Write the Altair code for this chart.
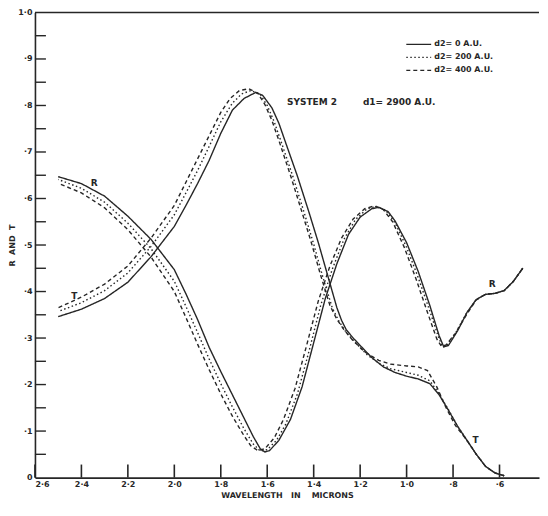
import altair as alt
import pandas as pd

# ---- data (wavelength in microns, value 0..1) ----
lam_R0 = [2.50, 2.40, 2.30, 2.20, 2.10, 2.00, 1.95, 1.90, 1.85, 1.80, 1.75, 1.70, 1.66, 1.63, 1.61, 1.59,
          1.55, 1.50, 1.45, 1.40, 1.35, 1.30, 1.25, 1.20, 1.15, 1.12, 1.08, 1.05, 1.00, 0.95, 0.90, 0.86,
          0.84, 0.82, 0.78, 0.74, 0.70, 0.66, 0.62, 0.58, 0.54, 0.50]
R0 = [0.647, 0.632, 0.605, 0.562, 0.512, 0.447, 0.395, 0.340, 0.280, 0.228, 0.178, 0.128, 0.088, 0.062,
      0.055, 0.058, 0.080, 0.125, 0.195, 0.290, 0.385, 0.460, 0.523, 0.560, 0.578, 0.581, 0.572, 0.552,
      0.505, 0.443, 0.370, 0.305, 0.281, 0.284, 0.316, 0.355, 0.383, 0.394, 0.396, 0.402, 0.422, 0.450]

lam_R200 = [2.50, 2.40, 2.30, 2.20, 2.10, 2.00, 1.95, 1.90, 1.85, 1.80, 1.75, 1.70, 1.66, 1.63, 1.60, 1.56,
            1.52, 1.47, 1.42, 1.37, 1.32, 1.27, 1.22, 1.17, 1.13, 1.09, 1.05, 1.00, 0.95, 0.90, 0.86, 0.845,
            0.83, 0.79, 0.74, 0.70, 0.66, 0.62, 0.58, 0.54, 0.50]
R200 = [0.641, 0.622, 0.592, 0.547, 0.492, 0.422, 0.368, 0.312, 0.255, 0.202, 0.152, 0.105, 0.072, 0.057,
        0.060, 0.080, 0.115, 0.180, 0.272, 0.370, 0.448, 0.512, 0.555, 0.578, 0.583, 0.575, 0.548, 0.495,
        0.430, 0.358, 0.298, 0.281, 0.283, 0.310, 0.355, 0.383, 0.394, 0.396, 0.402, 0.422, 0.450]

lam_R400 = [2.50, 2.40, 2.30, 2.20, 2.10, 2.00, 1.95, 1.90, 1.85, 1.80, 1.75, 1.70, 1.67, 1.64, 1.61, 1.57,
            1.53, 1.48, 1.43, 1.38, 1.33, 1.28, 1.23, 1.18, 1.14, 1.10, 1.06, 1.01, 0.96, 0.91, 0.87, 0.85,
            0.83, 0.79, 0.74, 0.70, 0.66, 0.62, 0.58, 0.54, 0.50]
R400 = [0.633, 0.612, 0.580, 0.533, 0.474, 0.400, 0.344, 0.287, 0.232, 0.180, 0.132, 0.090, 0.068, 0.058,
        0.062, 0.085, 0.125, 0.192, 0.285, 0.380, 0.455, 0.515, 0.556, 0.578, 0.584, 0.576, 0.550, 0.495,
        0.428, 0.355, 0.298, 0.282, 0.285, 0.310, 0.352, 0.382, 0.394, 0.396, 0.402, 0.422, 0.450]

lam_T0 = [2.50, 2.40, 2.30, 2.20, 2.10, 2.06, 2.00, 1.95, 1.90, 1.85, 1.80, 1.75, 1.70, 1.65, 1.62, 1.58,
          1.55, 1.52, 1.47, 1.42, 1.38, 1.34, 1.30, 1.28, 1.26, 1.23, 1.20, 1.15, 1.10, 1.05, 1.00, 0.95,
          0.90, 0.86, 0.82, 0.78, 0.74, 0.70, 0.66, 0.62, 0.58]
T0 = [0.346, 0.362, 0.385, 0.420, 0.475, 0.501, 0.540, 0.585, 0.632, 0.682, 0.740, 0.790, 0.815, 0.828,
      0.822, 0.795, 0.762, 0.719, 0.648, 0.570, 0.505, 0.435, 0.365, 0.338, 0.318, 0.300, 0.284, 0.258,
      0.238, 0.226, 0.218, 0.212, 0.202, 0.178, 0.145, 0.110, 0.080, 0.050, 0.024, 0.010, 0.004]

lam_T200 = [2.50, 2.40, 2.30, 2.20, 2.10, 2.00, 1.95, 1.90, 1.85, 1.80, 1.75, 1.71, 1.67, 1.63, 1.60, 1.57,
            1.54, 1.49, 1.44, 1.40, 1.36, 1.32, 1.29, 1.26, 1.22, 1.17, 1.12, 1.07, 1.00, 0.95, 0.90, 0.86,
            0.82, 0.78, 0.74, 0.70, 0.66, 0.62, 0.58]
T200 = [0.357, 0.376, 0.402, 0.440, 0.497, 0.565, 0.612, 0.660, 0.712, 0.765, 0.805, 0.825, 0.832, 0.824,
        0.800, 0.765, 0.722, 0.648, 0.568, 0.502, 0.430, 0.365, 0.335, 0.312, 0.290, 0.264, 0.246, 0.234,
        0.226, 0.220, 0.208, 0.180, 0.146, 0.110, 0.080, 0.050, 0.024, 0.010, 0.004]

lam_T400 = [2.50, 2.40, 2.30, 2.20, 2.10, 2.00, 1.95, 1.90, 1.85, 1.80, 1.76, 1.72, 1.68, 1.64, 1.61, 1.58,
            1.55, 1.50, 1.45, 1.41, 1.37, 1.33, 1.30, 1.27, 1.23, 1.18, 1.12, 1.07, 1.00, 0.95, 0.91, 0.87,
            0.83, 0.79, 0.74, 0.70, 0.66, 0.62, 0.58]
T400 = [0.365, 0.388, 0.416, 0.455, 0.515, 0.585, 0.635, 0.685, 0.735, 0.785, 0.815, 0.832, 0.836, 0.826,
        0.802, 0.768, 0.725, 0.650, 0.570, 0.505, 0.435, 0.370, 0.340, 0.318, 0.294, 0.270, 0.252, 0.244,
        0.240, 0.238, 0.230, 0.195, 0.150, 0.112, 0.080, 0.050, 0.024, 0.010, 0.004]

legend_labels = ["d2= 0 A.U.", "d2= 200 A.U.", "d2= 400 A.U."]

x_ticks = [2.6, 2.4, 2.2, 2.0, 1.8, 1.6, 1.4, 1.2, 1.0, 0.8, 0.6]
y_ticks = [0.0, 0.1, 0.2, 0.3, 0.4, 0.5, 0.6, 0.7, 0.8, 0.9, 1.0]
y_minor = [0.05, 0.1, 0.15, 0.2, 0.25, 0.3, 0.35, 0.4, 0.45, 0.5, 0.55, 0.6, 0.65, 0.7,
           0.75, 0.8, 0.85, 0.9, 0.95]

curve_labels = ["R", "T", "R", "T"]
curve_label_lam = [2.345, 2.43, 0.632, 0.703]
curve_label_val = [0.634, 0.39, 0.417, 0.08]

note_text = ["SYSTEM 2", "d1= 2900 A.U."]
note_lam = [1.515, 1.188]
note_val = [0.808, 0.808]

NB = "\u00a0"
x_title = "WAVELENGTH" + NB * 3 + "IN" + NB * 4 + "MICRONS"
y_title = "R" + NB * 2 + "AND" + NB * 2 + "T"

# ---- build table ----
rows = []
for lams, vals, qty, lab in [
    (lam_R0, R0, "R", legend_labels[0]), (lam_R200, R200, "R", legend_labels[1]),
    (lam_R400, R400, "R", legend_labels[2]), (lam_T0, T0, "T", legend_labels[0]),
    (lam_T200, T200, "T", legend_labels[1]), (lam_T400, T400, "T", legend_labels[2]),
]:
    for l, v in zip(lams, vals):
        rows.append({"lam": l, "val": v, "qty": qty, "d2": lab})
df = pd.DataFrame(rows)

W, H = 505, 466
INK = "#262626"
FONT = "DejaVu Sans"

xscale = alt.Scale(domain=[0.43, 2.6], reverse=True, nice=False, zero=False)
yscale = alt.Scale(domain=[0, 1], nice=False)

x_label_expr = "replace(replace(format(datum.value, '.1f'), '0.', '.'), '.', '·')"
y_label_expr = ("datum.value >= 0.999 ? '1·0' : "
                "(datum.value < 0.001 ? '0' : '·' + round(datum.value*10))")

x_axis = alt.Axis(values=x_ticks, labelExpr=x_label_expr, ticks=False,
                  labelPadding=3, title=x_title, grid=False, titlePadding=3)
y_axis = alt.Axis(values=y_ticks, labelExpr=y_label_expr, ticks=False,
                  labelPadding=3, title=y_title, grid=False, titlePadding=1)

lines = alt.Chart(df).mark_line(color=INK, strokeWidth=1.4).encode(
    x=alt.X("lam:Q", scale=xscale, axis=x_axis),
    y=alt.Y("val:Q", scale=yscale, axis=y_axis),
    strokeDash=alt.StrokeDash("d2:N", scale=alt.Scale(domain=legend_labels,
                                                      range=[[1, 0], [1.5, 2.5], [4, 3]]),
                              legend=alt.Legend(orient="none", legendX=371, legendY=26, title=None,
                                                symbolType="stroke", symbolSize=620, clipHeight=12,
                                                symbolStrokeColor=INK, symbolStrokeWidth=1.4,
                                                labelFont=FONT, labelFontSize=8, labelFontWeight="bold",
                                                labelColor=INK, rowPadding=1, labelOffset=2)),
    detail="qty:N",
    order="lam:Q",
)

top_rule = alt.Chart(pd.DataFrame({"val": [1.0]})).mark_rule(color=INK, strokeWidth=1.5).encode(
    y=alt.Y("val:Q", scale=yscale, axis=y_axis)
)

ytick_layer = alt.Chart(pd.DataFrame({"val": y_minor})).mark_rule(color=INK, strokeWidth=1.4).encode(
    y=alt.Y("val:Q", scale=yscale, axis=y_axis), x=alt.value(0), x2=alt.value(11)
)
xtick_layer = alt.Chart(pd.DataFrame({"lam": x_ticks})).mark_rule(color=INK, strokeWidth=1.6).encode(
    x=alt.X("lam:Q", scale=xscale, axis=x_axis), y=alt.datum(0), y2=alt.datum(0.028)
)

lab_df = pd.DataFrame({"t": curve_labels, "lam": curve_label_lam, "val": curve_label_val})
labels = alt.Chart(lab_df).mark_text(font=FONT, fontSize=9, fontWeight="bold", color=INK).encode(
    x=alt.X("lam:Q", scale=xscale, axis=x_axis), y=alt.Y("val:Q", scale=yscale, axis=y_axis), text="t:N"
)

note_df = pd.DataFrame({"t": note_text, "lam": note_lam, "val": note_val})
note = alt.Chart(note_df).mark_text(font=FONT, fontSize=9, fontWeight="bold", color=INK,
                                    align="left").encode(
    x=alt.X("lam:Q", scale=xscale, axis=x_axis), y=alt.Y("val:Q", scale=yscale, axis=y_axis), text="t:N"
)

chart = alt.layer(lines, top_rule, ytick_layer, xtick_layer, labels, note).properties(
    width=W, height=H, padding={"left": 0, "top": 0, "right": 0, "bottom": 0},
    background="white",
).configure_view(stroke=None).configure_axis(
    domainColor=INK, domainWidth=1.6,
    labelFont=FONT, labelFontSize=8, labelFontWeight="bold", labelColor=INK,
    titleFont=FONT, titleFontSize=8, titleFontWeight="bold", titleColor=INK,
)

chart.save("out.html", embed_options={"renderer": "svg", "actions": False})
